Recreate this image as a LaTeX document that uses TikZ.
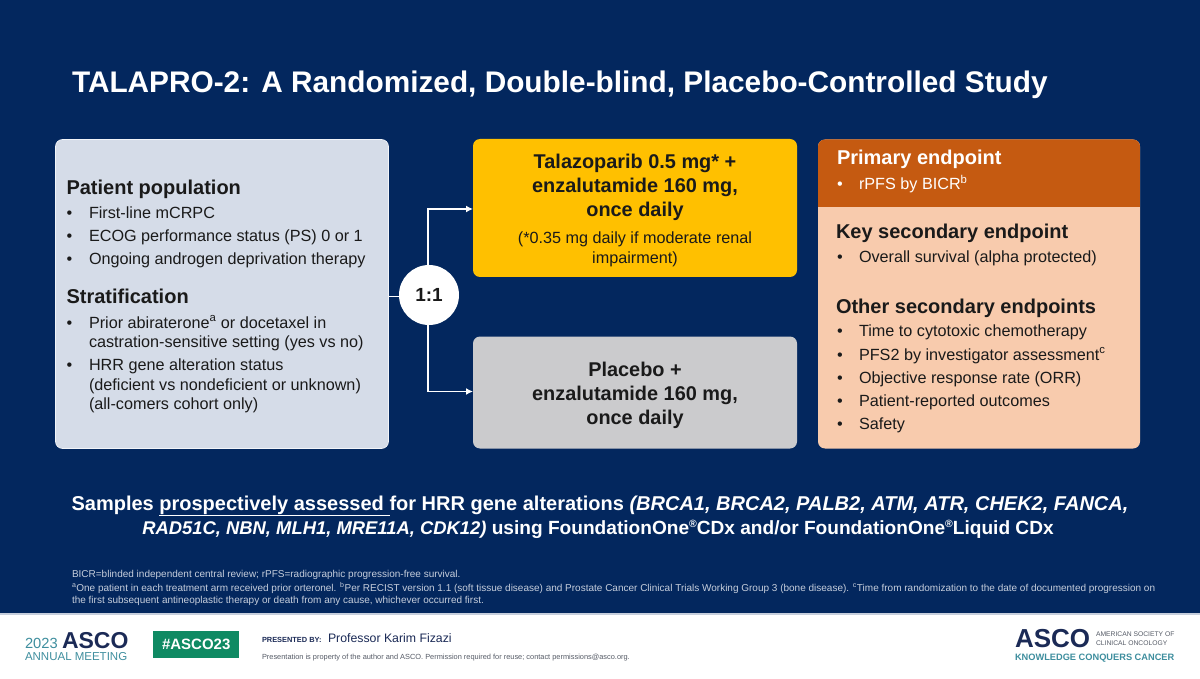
\documentclass[tikz,border=0pt]{standalone}
\usepackage{fontspec}
\setmainfont{Liberation Sans}
\usetikzlibrary{arrows.meta}
\definecolor{navy}{HTML}{03275E}
\definecolor{boxblue}{HTML}{D5DCE8}
\definecolor{boxgold}{HTML}{FFC000}
\definecolor{boxgrey}{HTML}{CBCBCD}
\definecolor{boxorange}{HTML}{C55A11}
\definecolor{boxpeach}{HTML}{F8CBAD}
\definecolor{ink}{HTML}{1A1A1A}
\definecolor{asconavy}{HTML}{1B2A56}
\definecolor{ascoteal}{HTML}{3E8E9E}
\definecolor{ascogreen}{HTML}{0F8A63}
\definecolor{footgrey}{HTML}{555B66}
\definecolor{notegrey}{HTML}{C6CEDC}
\tikzset{
  x=1pt,y=-1pt,
  txt/.style={anchor=base west,inner sep=0pt,outer sep=0pt,text=ink},
  mid/.style={anchor=base,inner sep=0pt,outer sep=0pt,text=ink},
  flow/.style={draw=white,line width=1.6pt},
  flowarrow/.style={flow,-{Latex[length=7pt,width=7pt]}},
  panel/.style={rounded corners=7pt,inner sep=0pt,outer sep=0pt,anchor=north west},
  note/.style={anchor=base west,inner sep=0pt,outer sep=0pt,text=notegrey,font=\fontsize{10}{12}\selectfont},
}
\newcommand{\hd}{\fontsize{20}{24}\selectfont\bfseries}
\newcommand{\bd}{\fontsize{16.2}{20}\selectfont}
\newcommand{\arm}{\fontsize{19.9}{25}\selectfont\bfseries}
\newcommand{\sups}[1]{\textsuperscript{#1}}
\newcommand{\regmark}{\raisebox{6.5pt}{\fontsize{10.5}{12}\selectfont ®}}
\begin{document}
\begin{tikzpicture}
\useasboundingbox (0,0) rectangle (1200,679);
\fill[navy] (0,0) rectangle (1200,679);
\fill[white] (0,614) rectangle (1200,679);
\fill[notegrey] (0,613) rectangle (1200,614.5);

\node[txt,text=white,font=\fontsize{29.8}{34}\selectfont\bfseries] (title) at (72,93) {TALAPRO-2: A Randomized, Double-blind, Placebo-Controlled Study};

% left panel
\node[panel,fill=boxblue,draw=white!70!boxblue,line width=.6pt,minimum width=333pt,minimum height=309pt] (pop) at (55.5,139.5) {};
\node[txt,font=\hd] (h1) at (66.5,194.5) {Patient population};
\foreach \y/\t/\n in {219/First-line mCRPC/p1,242/ECOG performance status (PS) 0 or 1/p2,265/Ongoing androgen deprivation therapy/p3,328/Prior abiraterone\sups{a} or docetaxel in/p4,347/castration-sensitive setting (yes vs no)/p5,370.5/HRR gene alteration status/p6,390/(deficient vs nondeficient or unknown)/p7,409/(all-comers cohort only)/p8}{
  \node[txt,font=\bd] (\n) at (89,\y) {\t};
}
\foreach \y/\n in {219/b1,242/b2,265/b3,328/b4,370.5/b5}{
  \node[txt,font=\bd] (\n) at (66.5,\y) {•};
}
\node[txt,font=\hd] (h2) at (66.5,303) {Stratification};

% arms
\node[panel,fill=boxgold,minimum width=324pt,minimum height=138pt] (tala) at (473,139) {};
\node[mid,font=\arm] (t1) at (635,169) {Talazoparib 0.5 mg* +};
\node[mid,font=\arm] (t2) at (635,193) {enzalutamide 160 mg,};
\node[mid,font=\arm] (t3) at (635,217) {once daily};
\node[mid,font=\fontsize{16.2}{20}\selectfont] (t4) at (635,244) {(*0.35 mg daily if moderate renal};
\node[mid,font=\fontsize{16.2}{20}\selectfont] (t5) at (635,264) {impairment)};

\node[panel,fill=boxgrey,minimum width=324pt,minimum height=112pt] (plac) at (473,336.5) {};
\node[mid,font=\arm] (g1) at (635,376) {Placebo +};
\node[mid,font=\arm] (g2) at (635,400) {enzalutamide 160 mg,};
\node[mid,font=\arm] (g3) at (635,424) {once daily};

% endpoints
\node[panel,fill=boxpeach,minimum width=322pt,minimum height=309pt] (ends) at (818,139.5) {};
\begin{scope}
\clip[rounded corners=7pt] (818,139.5) rectangle (1140,300);
\fill[boxorange] (818,139.5) rectangle (1140,207);
\end{scope}
\node[txt,text=white,font=\hd] (e1) at (837,165) {Primary endpoint};
\node[txt,text=white,font=\bd] (e1b) at (837,190) {•};
\node[txt,text=white,font=\bd] (e1t) at (859,190) {rPFS by BICR\sups{b}};
\node[txt,font=\hd] (e2) at (836,238.5) {Key secondary endpoint};
\node[txt,font=\bd] (e2b) at (837,262) {•};
\node[txt,font=\bd] (e2t) at (859,262) {Overall survival (alpha protected)};
\node[txt,font=\hd] (e3) at (836,313) {Other secondary endpoints};
\foreach \y/\t/\n in {336.5/Time to cytotoxic chemotherapy/q1,360/PFS2 by investigator assessment\sups{c}/q2,383.5/Objective response rate (ORR)/q3,406/Patient-reported outcomes/q4,429/Safety/q5}{
  \node[txt,font=\bd] (\n) at (859,\y) {\t};
  \node[txt,font=\bd] (\n b) at (837,\y) {•};
}

% connectors
\node[circle,fill=white,inner sep=0pt,minimum size=60pt,text=ink,font=\fontsize{19}{22}\selectfont\bfseries] (ratio) at (429,295) {1:1};
\draw[flow] (pop.east |- 0,296.5) -- (ratio.west |- 0,296.5);
\coordinate (topknee) at (428,209);
\coordinate (botknee) at (428,391.5);
\draw[flowarrow] ([xshift=-1pt]ratio.north) -- (topknee) -- (tala.west |- topknee);
\draw[flowarrow] ([xshift=-1pt]ratio.south) -- (botknee) -- (plac.west |- botknee);

% samples
\node[mid,text=white,font=\fontsize{20}{24}\selectfont\bfseries] (s1) at (600,510) {Samples \underline{prospectively assessed }for HRR gene alterations \textit{(BRCA1, BRCA2, PALB2, ATM, ATR, CHEK2, FANCA,}};
\node[mid,text=white,font=\fontsize{19.1}{24}\selectfont\bfseries] (s2) at (598,534) {{\fontsize{18.4}{24}\selectfont\textit{RAD51C, NBN, MLH1, MRE11A, CDK12)}} using FoundationOne\regmark CDx and/or FoundationOne\regmark Liquid CDx};

% notes
\node[note] (n1) at (72,577.5) {BICR=blinded independent central review; rPFS=radiographic progression-free survival.};
\node[note] (n2) at (72,591) {\sups{a}One patient in each treatment arm received prior orteronel. \sups{b}Per RECIST version 1.1 (soft tissue disease) and Prostate Cancer Clinical Trials Working Group 3 (bone disease). \sups{c}Time from randomization to the date of documented progression on};
\node[note] (n3) at (72,603) {the first subsequent antineoplastic therapy or death from any cause, whichever occurred first.};

% footer
\node[txt,text=ascoteal,font=\fontsize{14.7}{18}\selectfont] (y23) at (25,648) {2023};
\node[txt,text=asconavy,font=\fontsize{23}{28}\selectfont\bfseries] (asco1) at (62,648) {ASCO};
\node[txt,text=ascoteal,font=\fontsize{11.5}{14}\selectfont] (am) at (25,660) {ANNUAL MEETING};
\node[anchor=north west,fill=ascogreen,text=white,inner sep=0pt,minimum width=86pt,minimum height=27pt,font=\fontsize{15}{18}\selectfont\bfseries] (tag) at (153,631) {\#ASCO23};
\node[txt,text=asconavy,font=\fontsize{7.4}{8}\selectfont\bfseries] (pb) at (262,642) {PRESENTED BY:};
\node[txt,text=asconavy,font=\fontsize{12.3}{14}\selectfont] (kf) at (328,642) {Professor Karim Fizazi};
\node[txt,text=footgrey,font=\fontsize{7.4}{9}\selectfont] (prop) at (262,659) {Presentation is property of the author and ASCO. Permission required for reuse; contact permissions@asco.org.};
\node[txt,text=asconavy,font=\fontsize{26}{30}\selectfont\bfseries] (asco2) at (1015,647) {ASCO};
\node[txt,text=footgrey,font=\fontsize{6.75}{9}\selectfont] (as1) at (1096,636.5) {AMERICAN SOCIETY OF};
\node[txt,text=footgrey,font=\fontsize{6.75}{9}\selectfont] (as2) at (1096,645) {CLINICAL ONCOLOGY};
\node[txt,text=ascoteal,font=\fontsize{9.25}{10}\selectfont\bfseries] (kc) at (1015,660) {KNOWLEDGE CONQUERS CANCER};
\end{tikzpicture}
\end{document}
